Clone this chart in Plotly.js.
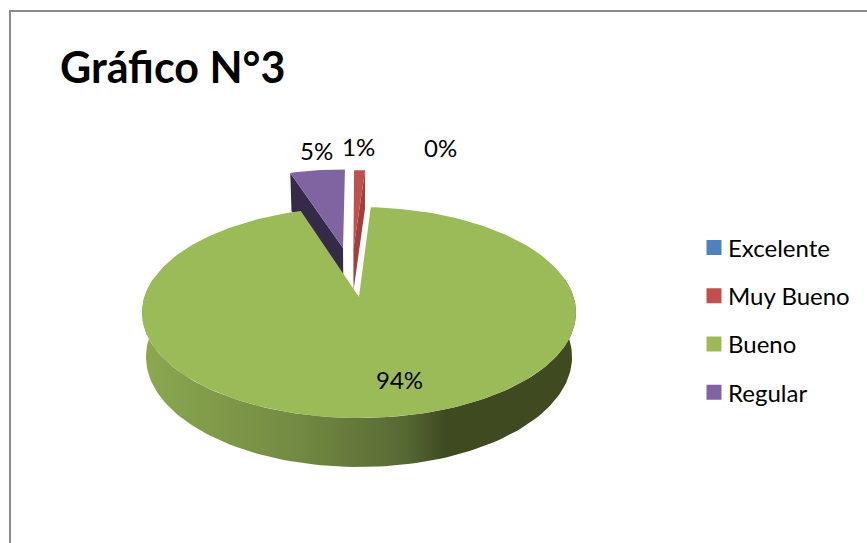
<!DOCTYPE html>
<html>
<head>
<meta charset="utf-8">
<script src="https://cdn.plot.ly/plotly-3.0.1.min.js"></script>
<style>
html,body{margin:0;padding:0;background:#fff}
#chart{width:867px;height:543px}
#chart text{font-variant-ligatures:none}
/* tighter gap between legend swatch and its label */
#chart .legend .legendsymbols{transform:translateX(6px)}
</style>
</head>
<body>
<div id="chart"></div>
<script>
// Survey results
const categories = ['Excelente', 'Muy Bueno', 'Bueno', 'Regular'];
const percents = [0, 1, 94, 5];
const chartTitle = 'Gráfico N°3';

// Slice styling
const topColors = ['#4F81BD', '#C0504D', '#9BBB59', '#8064A2'];
const edgeColors = ['#2C4A6E', '#A23F3D', '#3F4A21', '#352A47'];
const wallScale = [[0, '#8CA84F'], [0.36, '#728A42'], [0.6, '#586A34'], [0.7, '#3F4A21'], [1, '#3F4A21']];

// Explosion of each slice, in disc units (right, towards the viewer)
const explodeU = [0, -0.028, 0, -0.08];
const explodeV = [-0.5, -0.5, 0, -0.51];

// Perspective projection of the pie disc onto the page
const CX = 359, CY = 297, RX = 214.6, RY = 103.2, P = 0.147, DEPTH = 43.7, SHRINK = 0.982;

function project(u, v, lower) {
  const s = 1 / (1 - P * v);
  const f = lower ? SHRINK : 1;
  return [CX + RX * u * s * f, CY + RY * v * s * f + (lower ? DEPTH * s : 0)];
}
function rim(a, i) {
  const r = a * Math.PI / 180;
  return [explodeU[i] + Math.sin(r), explodeV[i] - Math.cos(r)];
}
function arc(a0, a1) {
  const n = Math.max(2, Math.ceil(Math.abs(a1 - a0) / 1.5));
  return Array.from({length: n + 1}, (_, k) => a0 + (a1 - a0) * k / n);
}
function polygon(pts, color, extra) {
  return Object.assign({
    type: 'scatter', mode: 'lines', fill: 'toself', fillcolor: color,
    x: pts.map(p => p[0]), y: pts.map(p => p[1]),
    line: {width: 0}, hoverinfo: 'skip', showlegend: false
  }, extra || {});
}

// Clockwise slice angles from twelve o'clock
let running = 0;
const spans = percents.map(p => { const s = [running, running + p * 3.6]; running = s[1]; return s; });

function sliceTraces(i) {
  const [a0, a1] = spans[i];
  const apex = [explodeU[i], explodeV[i]];
  const out = [];
  if (i === 3) { // left cut face of Regular
    const c = rim(a0, i);
    out.push(polygon([project(...apex), project(...c), project(...c, true), project(...apex, true)], edgeColors[i]));
  }
  if (i === 1) { // right cut face of Muy Bueno
    const c = rim(a1, i);
    out.push(polygon([project(...apex), project(...c), project(...c, true), project(...apex, true)], edgeColors[i]));
  }
  if (i === 2) { // curved front wall of Bueno
    const front = arc(80, 280).map(a => rim(a, i));
    const pts = front.map(q => project(...q)).concat(front.slice().reverse().map(q => project(...q, true)));
    out.push(polygon(pts, 'rgba(0,0,0,0)', {fillgradient: {type: 'horizontal', colorscale: wallScale}}));
  }
  const top = [project(...apex)].concat(arc(a0, a1).map(a => project(...rim(a, i))));
  out.push(polygon(top, topColors[i]));
  return out;
}

// Painted back to front
const drawOrder = [0, 3, 1, 2];
const traces = [];
drawOrder.forEach(i => { if (percents[i] > 0) traces.push(...sliceTraces(i)); });

// Legend swatches, one per category
categories.forEach((name, i) => traces.push({
  type: 'scatter', mode: 'markers', x: [null], y: [null], name,
  legendgroup: name, showlegend: true, hoverinfo: 'skip',
  marker: {symbol: 'square', size: 15, color: topColors[i]}
}));

const FONT = 'Lato, "Open Sans", sans-serif';
const labelX = [440, 358, 399, 316];
const labelY = [147, 146, 379.5, 150];
const annotations = percents.map((p, i) => ({
  x: labelX[i], y: labelY[i], xref: 'x', yref: 'y', text: p + '%', showarrow: false,
  xanchor: 'center', yanchor: 'middle', font: {family: FONT, size: 24, color: '#000'}
}));

const layout = {
  width: 867, height: 543, margin: {l: 0, r: 0, t: 0, b: 0},
  paper_bgcolor: '#fff', plot_bgcolor: '#fff',
  xaxis: {range: [0, 867], visible: false, fixedrange: true},
  yaxis: {range: [543, 0], visible: false, fixedrange: true},
  title: {text: chartTitle, x: 60 / 867, xanchor: 'left', y: 1 - 68 / 543, yanchor: 'middle',
          font: {family: FONT, size: 43, weight: 700, color: '#000'}},
  shapes: [{type: 'rect', xref: 'x', yref: 'y', x0: 10, y0: 11, x1: 900, y1: 600,
            line: {color: '#8A8A8A', width: 2}, layer: 'below'}],
  annotations,
  showlegend: true,
  legend: {x: 688 / 867, xanchor: 'left', y: 1 - 225.5 / 543, yanchor: 'top',
           tracegroupgap: 14, bgcolor: 'rgba(0,0,0,0)', itemclick: false, itemdoubleclick: false,
           font: {family: FONT, size: 24, color: '#000'}}
};

Plotly.newPlot('chart', traces, layout, {displayModeBar: false, staticPlot: true});
</script>
</body>
</html>
